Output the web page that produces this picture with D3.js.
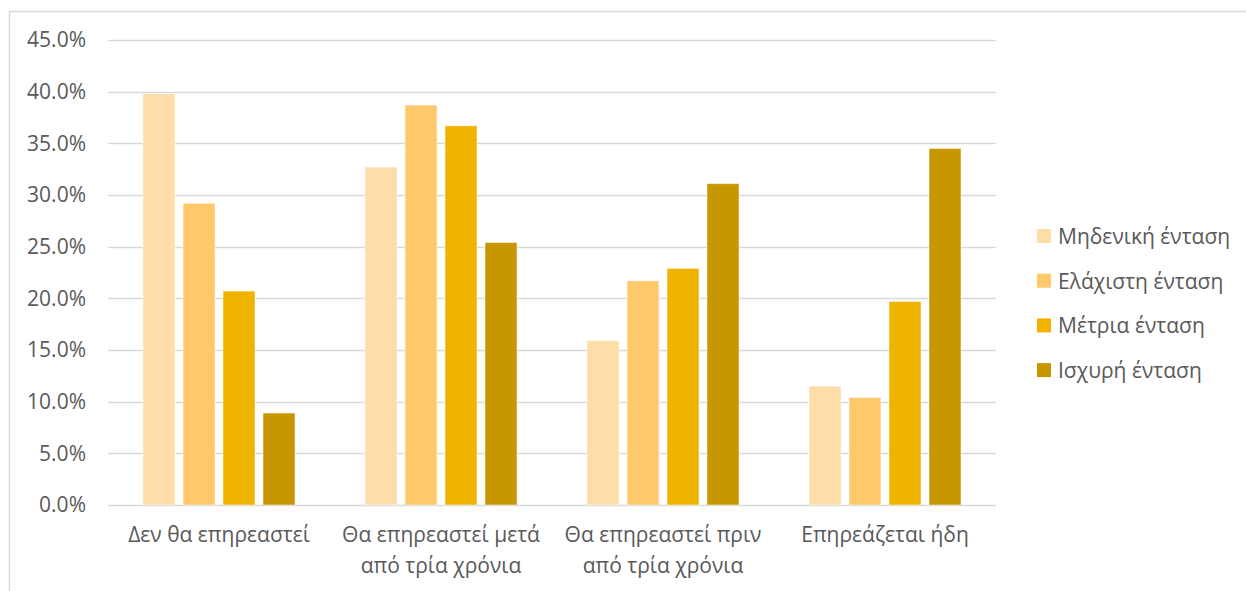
<!DOCTYPE html>
<html>
<head>
<meta charset="utf-8">
<script src="https://cdn.jsdelivr.net/npm/d3@7"></script>
<style>
  html, body { margin: 0; padding: 0; background: #fff; }
  svg { display: block; }
  text { font-family: "Open Sans", "Noto Sans", sans-serif; fill: #595959; }
</style>
</head>
<body>
<svg id="chart" width="1246" height="591"></svg>
<script>
// Response categories (x axis), split into display lines
const categories = [
  "Δεν θα επηρεαστεί",
  "Θα επηρεαστεί μετά από τρία χρόνια",
  "Θα επηρεαστεί πριν από τρία χρόνια",
  "Επηρεάζεται ήδη"
];
const categoryLines = [
  ["Δεν θα επηρεαστεί"],
  ["Θα επηρεαστεί μετά", "από τρία χρόνια"],
  ["Θα επηρεαστεί πριν", "από τρία χρόνια"],
  ["Επηρεάζεται ήδη"]
];

// Intensity series (legend order)
const seriesNames = ["Μηδενική ένταση", "Ελάχιστη ένταση", "Μέτρια ένταση", "Ισχυρή ένταση"];
const seriesColors = ["#FFDDA9", "#FFC96B", "#EFB300", "#C79600"];

// Percentages per series, one value per category
const zeroIntensity     = [39.8, 32.7, 15.9, 11.5];
const minimalIntensity  = [29.2, 38.7, 21.7, 10.4];
const moderateIntensity = [20.7, 36.7, 22.9, 19.7];
const strongIntensity   = [8.9, 25.4, 31.1, 34.5];
const seriesValues = [zeroIntensity, minimalIntensity, moderateIntensity, strongIntensity];

// Y axis ticks
const yTicks = [0, 5, 10, 15, 20, 25, 30, 35, 40, 45];

const svg = d3.select("#chart");
const fontSize = "21px";

// Outer chart frame
svg.append("rect")
  .attr("x", 9.5).attr("y", 11.5)
  .attr("width", 1300).attr("height", 700)
  .attr("fill", "#fff")
  .attr("stroke", "#D9D9D9").attr("stroke-width", 1.5);

const plot = { left: 108, right: 996, top: 40, bottom: 505 };

const y = d3.scaleLinear().domain([0, 45]).range([plot.bottom, plot.top]);
const x0 = d3.scaleBand().domain(categories).range([plot.left, plot.right]).padding(0);
const x1 = d3.scaleBand().domain(seriesNames).range([0, x0.bandwidth()])
  .paddingInner(0.2).paddingOuter(0.875);

// Gridlines
svg.append("g").selectAll("line").data(yTicks).join("line")
  .attr("x1", plot.left).attr("x2", plot.right)
  .attr("y1", d => Math.round(y(d)) + 0.5).attr("y2", d => Math.round(y(d)) + 0.5)
  .attr("stroke", "#D9D9D9").attr("stroke-width", 1.5);

// Y tick labels
svg.append("g").selectAll("text").data(yTicks).join("text")
  .attr("x", 86).attr("y", d => y(d) + 7.3)
  .attr("text-anchor", "end")
  .style("font-size", fontSize)
  .text(d => d3.format(".1f")(d) + "%");

// Bars
const groups = svg.append("g").selectAll("g").data(categories).join("g")
  .attr("transform", c => `translate(${x0(c)},0)`);

groups.selectAll("rect")
  .data((c, ci) => seriesNames.map((s, si) => ({ s, si, v: seriesValues[si][ci] })))
  .join("rect")
  .attr("x", d => x1(d.s))
  .attr("width", x1.bandwidth())
  .attr("y", d => y(d.v))
  .attr("height", d => y(0) - y(d.v))
  .attr("fill", d => seriesColors[d.si])
  .attr("stroke", "rgba(255,255,255,0.5)")
  .attr("stroke-width", 1);

// Category labels
const catLabels = svg.append("g").selectAll("text").data(categories).join("text")
  .attr("x", c => x0(c) + x0.bandwidth() / 2)
  .attr("y", 542)
  .attr("text-anchor", "middle")
  .style("font-size", fontSize);
catLabels.selectAll("tspan")
  .data((c, i) => categoryLines[i])
  .join("tspan")
  .attr("x", function () { return d3.select(this.parentNode).attr("x"); })
  .attr("dy", (d, i) => i === 0 ? 0 : 30.5)
  .text(d => d);

// Legend
const legend = svg.append("g").selectAll("g").data(seriesNames).join("g")
  .attr("transform", (d, i) => `translate(1037, ${229 + i * 44.7})`);
legend.append("rect")
  .attr("width", 14).attr("height", 14)
  .attr("fill", (d, i) => seriesColors[i]);
legend.append("text")
  .attr("x", 21).attr("y", 15)
  .style("font-size", fontSize)
  .text(d => d);
</script>
</body>
</html>
